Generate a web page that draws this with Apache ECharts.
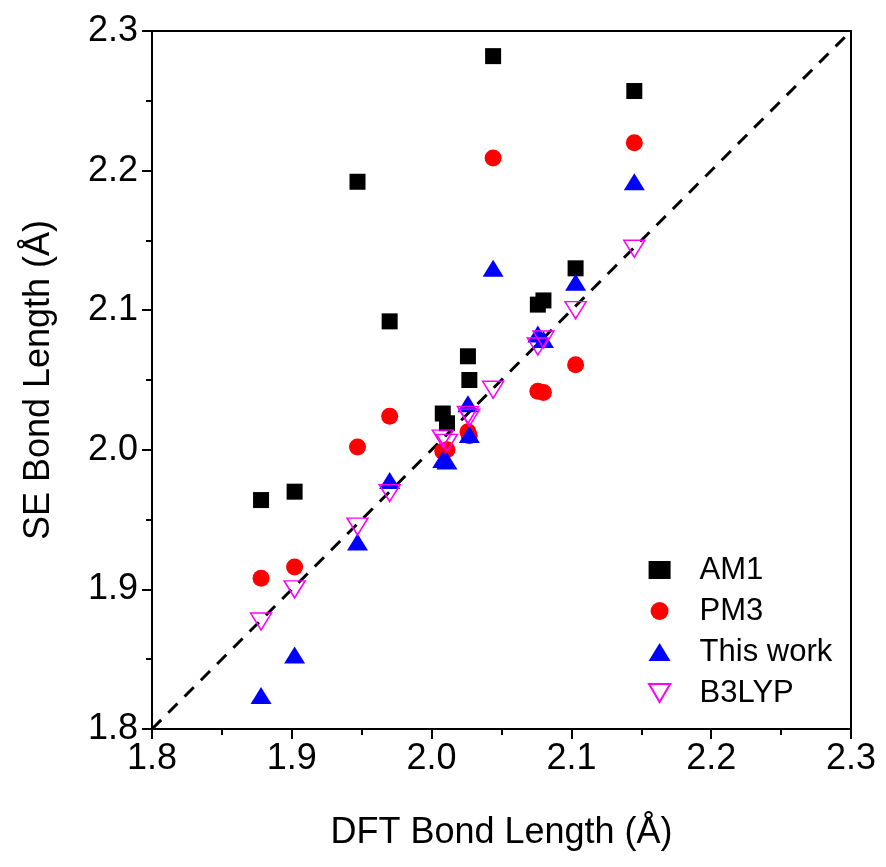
<!DOCTYPE html>
<html><head><meta charset="utf-8">
<script src="https://cdn.jsdelivr.net/npm/echarts@6/dist/echarts.min.js"></script>
<style>html,body{margin:0;padding:0;background:#fff}#c{width:886px;height:867px}</style>
</head><body><div id="c"></div>
<script>
// DFT bond lengths (x values, Å)
const dft = [1.878, 1.902, 1.947, 1.970, 2.008, 2.011, 2.026, 2.027, 2.044, 2.076, 2.080, 2.103, 2.145];
// Semi-empirical bond lengths (y values, Å)
const am1 = [1.964, 1.970, 2.192, 2.092, 2.026, 2.019, 2.067, 2.050, 2.282, 2.104, 2.107, 2.130, 2.257];
const pm3 = [1.908, 1.916, 2.002, 2.024, 1.999, 2.000, 2.013, 2.010, 2.209, 2.042, 2.041, 2.061, 2.220];
const thisWork = [1.824, 1.853, 1.934, 1.978, 1.993, 1.992, 2.033, 2.011, 2.130, 2.083, 2.079, 2.120, 2.192];
const b3lyp = [1.877, 1.900, 1.945, 1.969, 2.008, 2.005, 2.025, 2.023, 2.043, 2.074, 2.079, 2.100, 2.144];
const seriesNames = ['AM1', 'PM3', 'This work', 'B3LYP'];
const diagLine = [1.8, 2.3];
const axisMin = 1.8, axisMax = 2.3, axisStep = 0.1;

const pairs = ys => dft.map((x, i) => [x, ys[i]]);
const font = 'Arial, "Liberation Sans", sans-serif';
const invTriangle = 'path://M0,0 L20,0 L10,17 Z';
const chart = echarts.init(document.getElementById('c'));
const axisCommon = {
  type: 'value', min: axisMin, max: axisMax, interval: axisStep,
  axisLine: {show: true, lineStyle: {color: '#000', width: 2}},
  axisTick: {show: true, inside: false, length: 10, lineStyle: {color: '#000', width: 2}},
  minorTick: {show: true, splitNumber: 2, length: 6, lineStyle: {color: '#000', width: 2}},
  splitLine: {show: false},
  axisLabel: {color: '#000', fontSize: 36, fontFamily: font, formatter: v => v.toFixed(1)},
  nameLocation: 'middle',
  nameTextStyle: {color: '#000', fontSize: 36, fontFamily: font}
};
chart.setOption({
  animation: false,
  backgroundColor: '#fff',
  grid: {left: 152, top: 31, right: 35, bottom: 138, show: true, borderColor: '#000', borderWidth: 2, backgroundColor: 'transparent'},
  xAxis: Object.assign({}, axisCommon, {name: 'DFT Bond Length (Å)', nameGap: 86,
    axisLabel: Object.assign({}, axisCommon.axisLabel, {margin: 12})}),
  yAxis: Object.assign({}, axisCommon, {name: 'SE Bond Length (Å)', nameGap: 95,
    axisLabel: Object.assign({}, axisCommon.axisLabel, {margin: 14})}),
  legend: {
    orient: 'vertical', left: 643, top: 549, itemWidth: 22, itemHeight: 18, itemGap: 9,
    data: seriesNames,
    textStyle: {color: '#000', fontSize: 31, fontFamily: font, lineHeight: 32, padding: [0, 0, 0, 24]}
  },
  series: [
    {type: 'line', data: [[diagLine[0], diagLine[0]], [diagLine[1], diagLine[1]]], showSymbol: false, silent: true,
      lineStyle: {color: '#000', width: 3, type: [13, 10]}, z: 1},
    {name: seriesNames[0], type: 'scatter', data: pairs(am1), symbol: 'rect', symbolSize: 16,
      itemStyle: {color: '#000', opacity: 1}, z: 2},
    {name: seriesNames[1], type: 'scatter', data: pairs(pm3), symbol: 'circle', symbolSize: 17,
      itemStyle: {color: '#ff0000', opacity: 1}, z: 3},
    {name: seriesNames[2], type: 'scatter', data: pairs(thisWork), symbol: 'triangle', symbolSize: [21, 17],
      itemStyle: {color: '#0000ff', opacity: 1}, z: 4},
    {name: seriesNames[3], type: 'scatter', data: pairs(b3lyp), symbol: invTriangle, symbolSize: [21, 17],
      itemStyle: {color: 'rgba(255,255,255,0)', borderColor: '#ff00ff', borderWidth: 1.5, opacity: 1}, z: 5}
  ]
});
</script></body></html>
